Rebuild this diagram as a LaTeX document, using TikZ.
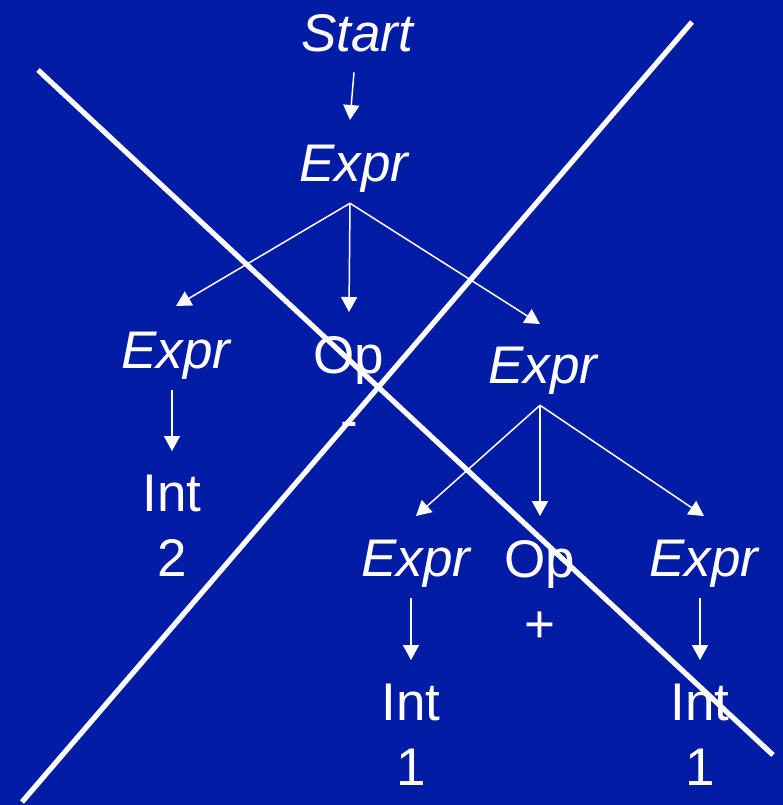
\documentclass[tikz,border=0pt]{standalone}
\usepackage{fontspec}
\setmainfont{Liberation Sans}
\usetikzlibrary{arrows.meta,positioning}
\definecolor{slideblue}{RGB}{2,28,166}
\tikzset{
  sym/.style={text=white,font=\fontsize{26.5}{32.5}\selectfont,
              inner sep=0pt,anchor=north,align=center},
  nt/.style={sym,font=\fontsize{26.5}{32.5}\selectfont\itshape},
  arr/.style={-{Triangle[length=7.5pt,width=8pt]},line width=0.75pt,color=white},
  cross/.style={line width=2.6pt,color=white},
}
\begin{document}
\begin{tikzpicture}[x=0.5pt,y=-0.5pt]
  \fill[slideblue] (0,0) rectangle (783,805);
  % Top
  \node[nt](START)  at (357,14)  {Start};
  \node[nt](EXPR)   at (354,145) {Expr};
  % Row 2
  \node[nt](EXPR_L)   at (176,332) {Expr};
  \node[sym](OP_MINUS) at (349,336) {Op\\-};
  \node[nt](EXPR_R)   at (543,347) {Expr};
  \node[sym](INT_TWO) at (172,475) {Int\\2};
  % Row 3
  \node[nt](EXPR_RL)  at (416,540) {Expr};
  \node[sym](OP_PLUS) at (540,540) {Op\\+};
  \node[nt](EXPR_RR)  at (704,540) {Expr};
  \node[sym](INT_ONE_L) at (411,684) {Int\\1};
  \node[sym](INT_ONE_R) at (700,684) {Int\\1};

  % Arrows
  \draw[arr]([xshift=-1.5pt,yshift=-10pt]START.south) -- ([xshift=-2pt,yshift=12.5pt]EXPR.north);
  \draw[arr]([xshift=-2pt,yshift=-5pt]EXPR.south) -- ([yshift=13pt]EXPR_L.north);
  \draw[arr]([xshift=-2pt,yshift=-5pt]EXPR.south) -- ([yshift=12pt]OP_MINUS.north);
  \draw[arr]([xshift=-2pt,yshift=-5pt]EXPR.south) -- ([xshift=-1.5pt,yshift=11.5pt]EXPR_R.north);
  \draw[arr]([yshift=-5pt]EXPR_L.south -| INT_TWO.north) -- ([yshift=12pt]INT_TWO.north);
  \draw[arr]([xshift=-1.5pt,yshift=-5pt]EXPR_R.south) -- ([yshift=12pt]EXPR_RL.north);
  \draw[arr]([xshift=-1.5pt,yshift=-5pt]EXPR_R.south) -- ([yshift=12pt]OP_PLUS.north);
  \draw[arr]([xshift=-1.5pt,yshift=-5pt]EXPR_R.south) -- ([yshift=12pt]EXPR_RR.north);
  \draw[arr]([yshift=-5pt]EXPR_RL.south -| INT_ONE_L.north) -- ([yshift=12pt]INT_ONE_L.north);
  \draw[arr]([yshift=-5pt]EXPR_RR.south -| INT_ONE_R.north) -- ([yshift=12pt]INT_ONE_R.north);

  % Crossing-out lines
  \coordinate (NW) at (38,70);
  \coordinate (SE) at (773,755);
  \coordinate (SW) at (22,802);
  \coordinate (NE) at (692,22);
  \draw[cross](NW) -- (SE);
  \draw[cross](SW) -- (NE);
\end{tikzpicture}
\end{document}
